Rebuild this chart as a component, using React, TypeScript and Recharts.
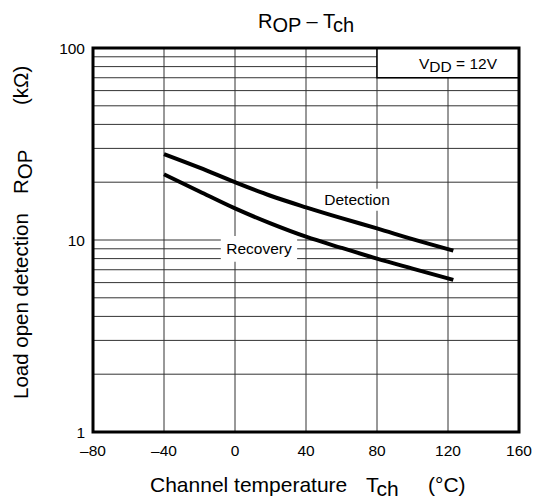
import { LineChart, Line, XAxis, YAxis, CartesianGrid, ReferenceArea } from "recharts";

// Channel temperature (°C)
const temps = [-40, -20, 0, 20, 40, 60, 80, 100, 123];
// Load open detection resistance R_OP (kΩ)
const detection = [28, 23.8, 20, 17, 14.8, 13, 11.5, 10.1, 8.8];
const recovery = [22, 17.9, 14.6, 12.2, 10.4, 9.1, 8.0, 7.1, 6.2];

const xTicks = [-80, -40, 0, 40, 80, 120, 160];
const yTicks = [1, 2, 3, 4, 5, 6, 7, 8, 9, 10, 20, 30, 40, 50, 60, 70, 80, 90, 100];
const yLabelTicks = [1, 10, 100];

const data = temps.map((t, i) => ({ t, detection: detection[i], recovery: recovery[i] }));

const FONT = "'Liberation Sans', Arial, sans-serif";

const XTitle = () => (
  <g fontSize={21} fill="#000">
    <text x={150} y={492}>Channel temperature</text>
    <text x={366} y={492}>
      T<tspan dy={4}>ch</tspan>
    </text>
    <text x={428} y={492}>(°C)</text>
  </g>
);

const YTitle = () => (
  <g fontSize={20.5} fill="#000">
    <text transform="translate(28, 399) rotate(-90)">Load open detection</text>
    <text transform="translate(28, 194) rotate(-90)">
      R<tspan dy={4}>OP</tspan>
    </text>
    <text transform="translate(28, 105) rotate(-90)">(kΩ)</text>
  </g>
);

const VddLabel = (props: any) => {
  const { viewBox } = props;
  return (
    <text x={viewBox.x + viewBox.width - 22} y={viewBox.y + 21} textAnchor="end" fontSize={15.5} fill="#000">
      V<tspan dy={3}>DD</tspan>
      <tspan dy={-3}> = 12V</tspan>
    </text>
  );
};

export default function App() {
  return (
    <div style={{ position: "absolute", left: 0, top: 0, width: 539, height: 504, background: "#fff", fontFamily: FONT }}>
      <LineChart width={539} height={504} data={data} margin={{ top: 48, right: 20, bottom: 42, left: 33 }}>
        <CartesianGrid stroke="#333" strokeWidth={1} />
        <XAxis
          dataKey="t"
          type="number"
          domain={[-80, 160]}
          ticks={xTicks}
          interval={0}
          axisLine={false}
          tickLine={false}
          tickMargin={7}
          height={30}
          tick={{ fill: "#000", fontSize: 15.5 }}
          tickFormatter={(v) => String(v).replace("-", "\u2013")}
          label={{ content: () => <XTitle /> }}
        />
        <YAxis
          type="number"
          scale="log"
          domain={[1, 100]}
          allowDataOverflow
          ticks={yTicks}
          interval={0}
          axisLine={false}
          tickLine={false}
          width={60}
          tick={{ fill: "#000", fontSize: 15.5 }}
          tickFormatter={(v) => (yLabelTicks.includes(v) ? String(v) : "")}
          label={{ content: () => <YTitle /> }}
        />
        {/* white patches behind the curve names, and the condition box */}
        <ReferenceArea
          x1={-8}
          x2={35}
          y1={7.7}
          y2={10.5}
          fill="#fff"
          fillOpacity={1}
          stroke="none"
          label={{ value: "Recovery", position: "center", fill: "#000", fontSize: 15.5 }}
        />
        <ReferenceArea
          x1={49}
          x2={88.5}
          y1={14.2}
          y2={18.5}
          fill="#fff"
          fillOpacity={1}
          stroke="none"
          label={{ value: "Detection", position: "center", fill: "#000", fontSize: 15.5 }}
        />
        <ReferenceArea
          x1={80}
          x2={160}
          y1={70}
          y2={100}
          fill="#fff"
          fillOpacity={1}
          stroke="#000"
          strokeWidth={1.5}
          label={{ content: (p: any) => <VddLabel {...p} /> }}
        />
        <ReferenceArea x1={-80} x2={160} y1={1} y2={100} fill="none" stroke="#000" strokeWidth={3} />
        <Line type="monotone" dataKey="detection" stroke="#000" strokeWidth={4} dot={false} isAnimationActive={false} />
        <Line type="monotone" dataKey="recovery" stroke="#000" strokeWidth={4} dot={false} isAnimationActive={false} />
        <text x={258} y={28} fontSize={20} fill="#000">
          R<tspan dy={4}>OP</tspan>
          <tspan dy={-4}> – T</tspan>
          <tspan dy={4}>ch</tspan>
        </text>
      </LineChart>
    </div>
  );
}
